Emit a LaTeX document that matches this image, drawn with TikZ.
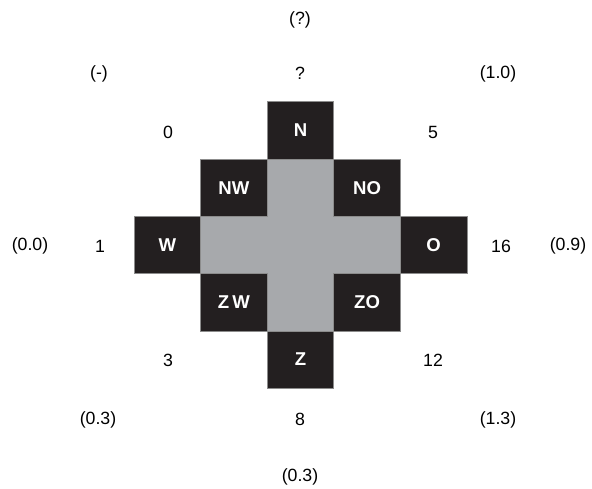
\documentclass[tikz,border=0pt]{standalone}
\usepackage{fontspec}
\setmainfont{Liberation Sans}
\usepackage{xcolor}
\usetikzlibrary{positioning}

\definecolor{celldark}{HTML}{231F20}
\definecolor{cellgray}{HTML}{A7A9AC}
\definecolor{celledge}{HTML}{8C8C8C}

\tikzset{
  dircell/.style={rectangle,draw=celledge,line width=0.5pt,fill=celldark,text=white,
    font=\fontsize{13.2}{15}\selectfont\bfseries,minimum width=1.665cm,minimum height=1.4325cm,
    inner sep=0pt,outer sep=0pt},
  midcell/.style={rectangle,draw=cellgray,line width=0.5pt,fill=cellgray,
    minimum width=1.665cm,minimum height=1.4325cm,inner sep=0pt,outer sep=0pt},
  val/.style={font=\fontsize{12.6}{15}\selectfont,inner sep=1pt}
}

\begin{document}
\begin{tikzpicture}[x=0.025cm,y=-0.025cm]
\useasboundingbox (0,0) rectangle (592,488);

% Centre cross
\node[midcell] (c) at (300.5,245) {};
\node[midcell] (cn) at (300.5,187.7) {};
\node[midcell] (cz) at (300.5,302.3) {};
\node[midcell] (cw) at (233.9,245) {};
\node[midcell] (co) at (367.1,245) {};

% Neighbour cells
\node[dircell] (n) at (300.5,130.4) {N};
\node[dircell] (nw) at (233.9,187.7) {NW};
\node[dircell] (no) at (367.1,187.7) {NO};
\node[dircell] (w) at (167.3,245) {W};
\node[dircell] (o) at (433.7,245) {O};
\node[dircell] (zw) at (233.9,302.3) {Z\,W};
\node[dircell] (zo) at (367.1,302.3) {ZO};
\node[dircell] (z) at (300.5,359.6) {Z};

% Counts
\node[val] (vn) at (300,73) {?};
\node[val] (vnw) at (168,132) {0};
\node[val] (vno) at (433,132) {5};
\node[val] (vw) at (100,246) {1};
\node[val] (vo) at (501,246) {16};
\node[val] (vzw) at (168,360) {3};
\node[val] (vzo) at (433,360) {12};
\node[val] (vz) at (300,419) {8};

% Ratios
\node[val] (rn) at (300,20) {(?)};
\node[val] (rnw) at (99,74) {(-)};
\node[val] (rno) at (498,74) {(1.0)};
\node[val] (rw) at (30,246) {(0.0)};
\node[val] (ro) at (568,246) {(0.9)};
\node[val] (rzw) at (98,420) {(0.3)};
\node[val] (rzo) at (498,420) {(1.3)};
\node[val] (rz) at (300,477) {(0.3)};
\end{tikzpicture}
\end{document}
